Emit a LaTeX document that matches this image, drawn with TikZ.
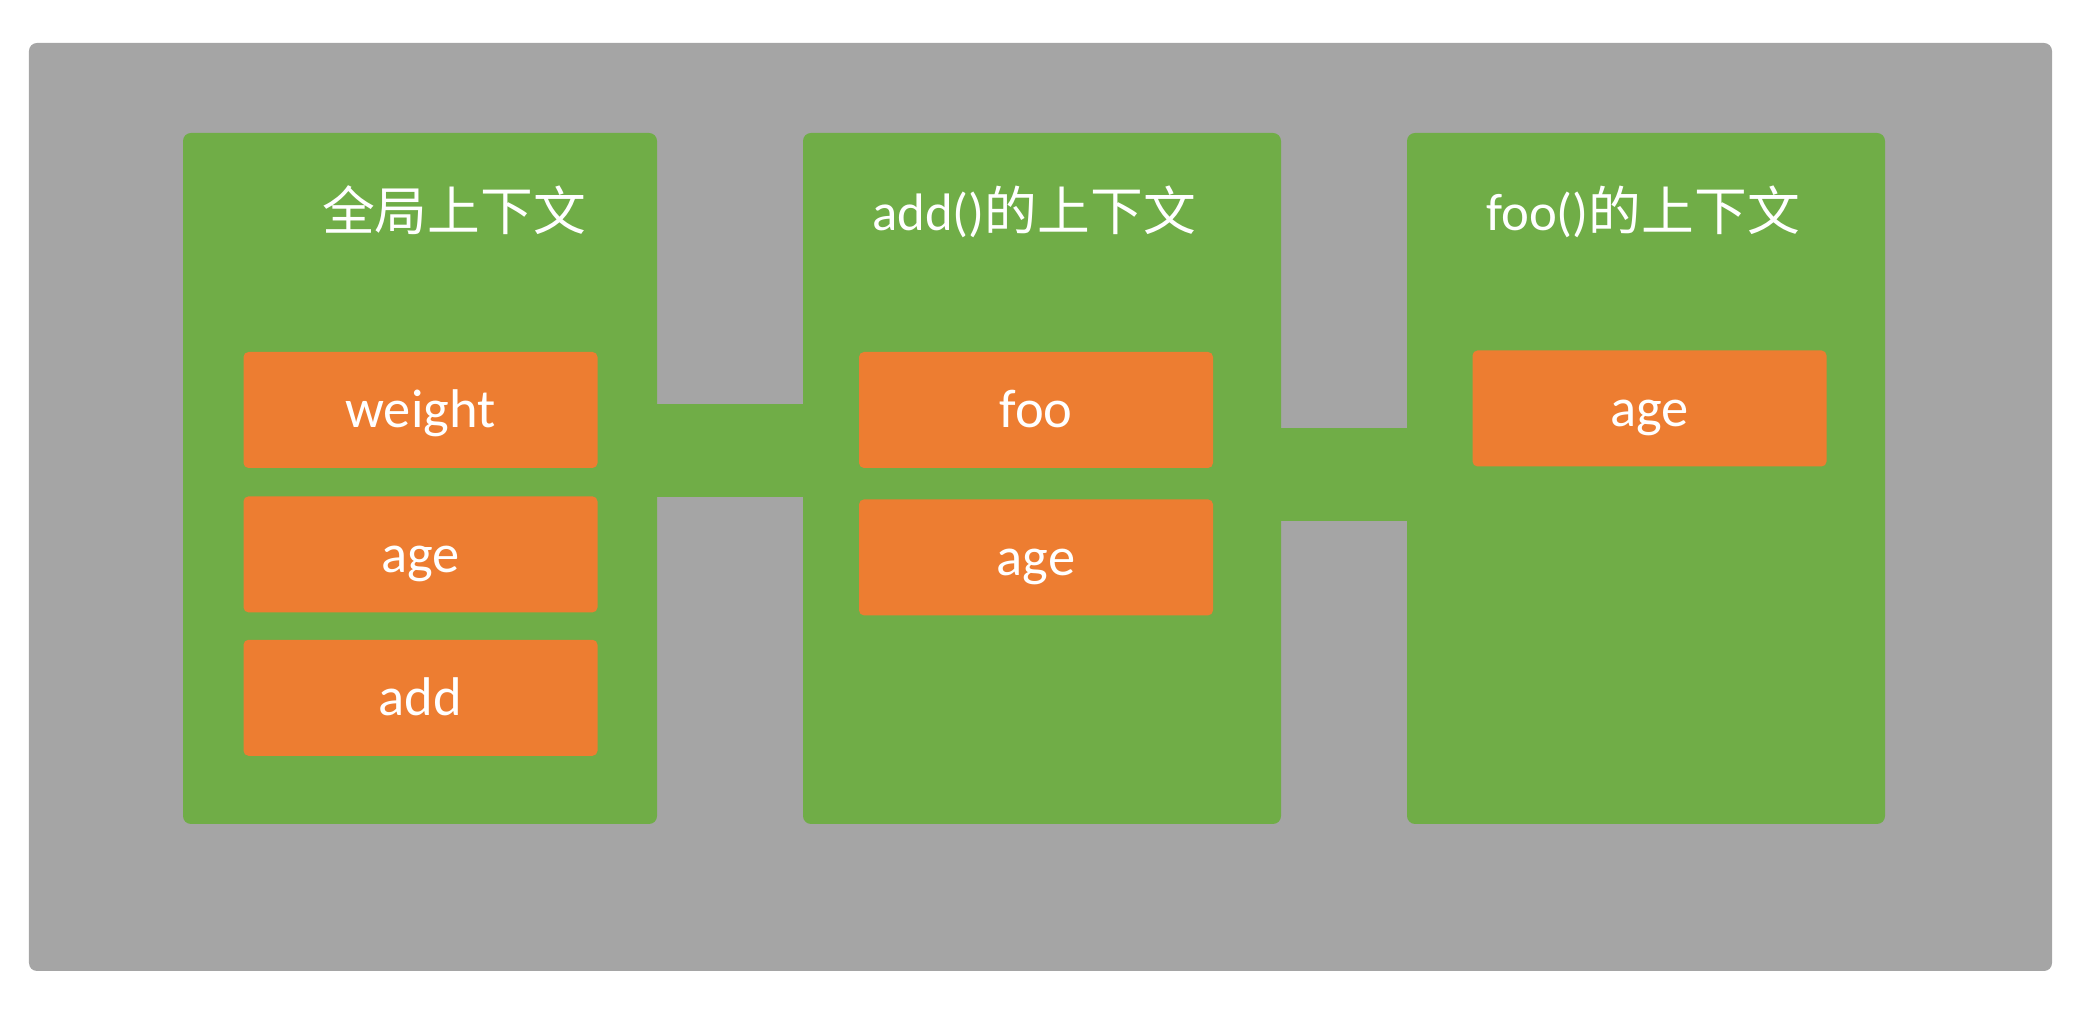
\documentclass[tikz,border=0pt]{standalone}
\usepackage{fontspec}
\setmainfont{Carlito}
\newfontfamily\cjk{Noto Sans CJK SC}
\usetikzlibrary{positioning}
\definecolor{bggrey}{HTML}{A5A5A5}
\definecolor{ctxgreen}{HTML}{70AD47}
\definecolor{varorange}{HTML}{ED7D31}

\begin{document}
\begin{tikzpicture}[
  ctx/.style={fill=ctxgreen, rounded corners=0.08cm, minimum width=4.78cm, minimum height=6.91cm, inner sep=0pt},
  var/.style={fill=varorange, rounded corners=0.05cm, minimum width=3.54cm, minimum height=1.16cm, inner sep=0pt,
    text=white, text height=2.6ex, text depth=.5ex, font=\fontsize{15.5}{18}\selectfont},
  ctxtitle/.style={text=white, anchor=base, inner sep=0pt, font=\fontsize{15}{18}\selectfont},
  link/.style={draw=ctxgreen, line width=0.93cm, shorten <=-0.05cm, shorten >=-0.05cm}
]
  \useasboundingbox (0,0) rectangle (20.88,10.14);
  \fill[bggrey, rounded corners=0.08cm] (0.29,0.43) rectangle (20.52,9.71);
  % execution contexts
  \node[ctx, minimum width=4.74cm] (global) at (4.20,5.355) {};
  \node[ctx] (addctx) at (10.42,5.355) {};
  \node[ctx] (fooctx) at (16.46,5.355) {};
  \draw[link] ([yshift=0.28cm]global.east) -- ([yshift=0.28cm]addctx.west);
  \draw[link] ([yshift=0.04cm]addctx.east) -- ([yshift=0.04cm]fooctx.west);
  \node[ctxtitle] (globaltitle) at (4.54,7.83) {\cjk 全局上下文};
  \node[ctxtitle] (addtitle) at (10.34,7.83) {add()\cjk 的上下文};
  \node[ctxtitle] (footitle) at (16.43,7.83) {foo()\cjk 的上下文};
  % variables
  \node[var] (weight) at (4.205,6.04) {weight};
  \node[var, below=0.27cm of weight] (gage) {age};
  \node[var, below=0.26cm of gage] (gadd) {add};
  \node[var] (foo) at (10.36,6.04) {foo};
  \node[var, below=0.30cm of foo] (aage) {age};
  \node[var] (fage) at (16.495,6.055) {age};
\end{tikzpicture}
\end{document}
